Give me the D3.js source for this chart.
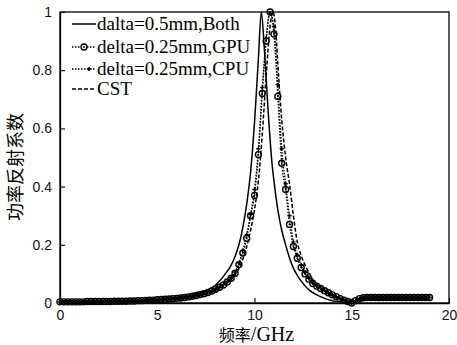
<!DOCTYPE html>
<html>
<head>
<meta charset="utf-8">
<script src="https://cdn.jsdelivr.net/npm/d3@7"></script>
<style>
  html, body { margin: 0; padding: 0; background: #fff; }
  svg { display: block; }
</style>
</head>
<body>
<svg id="chart" width="457" height="345"></svg>
<script>
// ---------------- data ----------------
const legendLabels = ["dalta=0.5mm,Both", "delta=0.25mm,GPU", "delta=0.25mm,CPU", "CST"];
const xTickValues = [0, 5, 10, 15, 20];
const xTickLabels = ["0", "5", "10", "15", "20"];
const yTickValues = [0, 0.2, 0.4, 0.6, 0.8, 1];
const yTickLabels = ["0", "0.2", "0.4", "0.6", "0.8", "1"];

// series 1: dalta=0.5mm, Both (solid)
const solidFreq = [0,1,2,3,4,5,6,7,7.5,8,8.5,8.8,9,9.2,9.4,9.6,9.8,10,10.2,10.35,10.5,10.7,10.9,11.0,11.2,11.4,11.6,11.8,12,12.2,12.4,12.8,13.2,13.6,14,14.5,15,15.5,16,17,18,19];
const solidVal  = [0.002,0.002,0.003,0.004,0.005,0.008,0.015,0.03,0.042,0.062,0.1,0.13,0.16,0.2,0.26,0.34,0.45,0.62,0.84,1.0,0.88,0.66,0.48,0.42,0.32,0.25,0.2,0.155,0.12,0.095,0.075,0.045,0.028,0.016,0.008,0.003,0.0,0.01,0.012,0.012,0.012,0.012];

// series 2 & 3: delta=0.25mm GPU / CPU (sampled every 0.2 GHz)
const gridFreq = [0,0.2,0.4,0.6,0.8,1,1.2,1.4,1.6,1.8,2,2.2,2.4,2.6,2.8,3,3.2,3.4,3.6,3.8,4,4.2,4.4,4.6,4.8,5,5.2,5.4,5.6,5.8,6,6.2,6.4,6.6,6.8,7,7.2,7.4,7.6,7.8,8,8.2,8.4,8.6,8.8,9,9.2,9.4,9.6,9.8,10,10.2,10.4,10.6,10.8,11,11.2,11.4,11.6,11.8,12,12.2,12.4,12.6,12.8,13,13.2,13.4,13.6,13.8,14,14.2,14.4,14.6,14.8,15,15.2,15.4,15.6,15.8,16,16.2,16.4,16.6,16.8,17,17.2,17.4,17.6,17.8,18,18.2,18.4,18.6,18.8,19];
const gpuVal = [0.004,0.004,0.004,0.004,0.004,0.004,0.004,0.005,0.005,0.005,0.005,0.005,0.005,0.005,0.006,0.006,0.006,0.006,0.007,0.007,0.008,0.008,0.009,0.010,0.010,0.011,0.012,0.013,0.014,0.015,0.016,0.017,0.019,0.021,0.023,0.026,0.029,0.032,0.036,0.041,0.047,0.054,0.062,0.072,0.085,0.102,0.132,0.172,0.222,0.30,0.37,0.51,0.72,0.9,1.0,0.924,0.71,0.48,0.39,0.27,0.194,0.154,0.122,0.1,0.082,0.067,0.058,0.05,0.042,0.035,0.028,0.022,0.015,0.01,0.005,0.0,0.008,0.015,0.018,0.019,0.019,0.019,0.019,0.019,0.019,0.019,0.019,0.019,0.019,0.019,0.019,0.019,0.019,0.019,0.019,0.019];
const cpuVal = [0.004,0.004,0.004,0.004,0.004,0.004,0.004,0.005,0.005,0.005,0.005,0.005,0.005,0.005,0.006,0.006,0.006,0.006,0.007,0.007,0.008,0.008,0.009,0.010,0.010,0.011,0.012,0.013,0.014,0.015,0.016,0.017,0.019,0.021,0.023,0.026,0.029,0.032,0.036,0.041,0.047,0.054,0.063,0.074,0.088,0.106,0.138,0.18,0.235,0.305,0.39,0.53,0.74,0.91,0.995,0.95,0.75,0.53,0.41,0.30,0.21,0.165,0.13,0.105,0.085,0.069,0.059,0.051,0.043,0.035,0.028,0.022,0.015,0.01,0.005,0.0,0.008,0.015,0.018,0.019,0.019,0.019,0.019,0.019,0.019,0.019,0.019,0.019,0.019,0.019,0.019,0.019,0.019,0.019,0.019,0.019];

// series 4: CST (dashed)
const cstFreq = [0,1,2,3,4,5,6,7,7.5,8,8.5,9,9.4,9.8,10,10.2,10.4,10.6,10.8,10.95,11.1,11.2,11.4,11.6,11.8,12,12.2,12.4,12.6,12.8,13,13.4,13.8,14.2,14.6,15,15.4,16,17,18,19];
const cstVal  = [0.003,0.003,0.004,0.005,0.007,0.01,0.015,0.024,0.032,0.044,0.064,0.096,0.15,0.25,0.32,0.42,0.58,0.78,0.95,1.0,0.93,0.82,0.63,0.5,0.41,0.3,0.21,0.163,0.13,0.105,0.08,0.052,0.034,0.02,0.008,0.0,0.014,0.018,0.018,0.018,0.018];

const xTitleCJK = "频率";
const xTitleLatin = "/GHz";
const yTitle = "功率反射系数";

// ---------------- drawing ----------------
const svg = d3.select("#chart");
const X0 = 60, X1 = 449, Y0 = 12, Y1 = 303;
const x = d3.scaleLinear().domain([0, 20]).range([X0, X1]);
const y = d3.scaleLinear().domain([0, 1]).range([Y1, Y0]);

const zip = (fs, vs) => fs.map((f, i) => [f, vs[i]]);
const line = d3.line().x(d => x(d[0])).y(d => y(d[1])).curve(d3.curveMonotoneX);

const g = svg.append("g");

// solid
g.append("path").datum(zip(solidFreq, solidVal)).attr("d", line)
  .attr("fill", "none").attr("stroke", "#000").attr("stroke-width", 1.5);
// CST dashed
g.append("path").datum(zip(cstFreq, cstVal)).attr("d", line)
  .attr("fill", "none").attr("stroke", "#000").attr("stroke-width", 1.5)
  .attr("stroke-dasharray", "4,2");
// CPU dotted
const cpuData = zip(gridFreq, cpuVal);
g.append("path").datum(cpuData).attr("d", line)
  .attr("fill", "none").attr("stroke", "#000").attr("stroke-width", 1.3)
  .attr("stroke-dasharray", "1.5,1.5");
// GPU dotted
const gpuData = zip(gridFreq, gpuVal);
g.append("path").datum(gpuData).attr("d", line)
  .attr("fill", "none").attr("stroke", "#000").attr("stroke-width", 1.3)
  .attr("stroke-dasharray", "1.5,1.5");

// GPU circle markers
const gm = g.append("g");
gm.selectAll("circle.o").data(gpuData).join("circle").attr("class", "o")
  .attr("cx", d => x(d[0])).attr("cy", d => y(d[1])).attr("r", 3)
  .attr("fill", "none").attr("stroke", "#000").attr("stroke-width", 1.4);
gm.selectAll("circle.c").data(gpuData).join("circle").attr("class", "c")
  .attr("cx", d => x(d[0])).attr("cy", d => y(d[1])).attr("r", 0.9)
  .attr("fill", "#000");

// CPU plus markers
const plus = d3.symbol().type(d3.symbolCross).size(10);
g.append("g").selectAll("path").data(cpuData).join("path")
  .attr("d", plus)
  .attr("transform", d => `translate(${x(d[0])},${y(d[1])})`)
  .attr("fill", "#000");

// frame
svg.append("rect").attr("x", X0).attr("y", Y0).attr("width", X1 - X0).attr("height", Y1 - Y0)
  .attr("fill", "none").attr("stroke", "#000").attr("stroke-width", 1.3);

// axes
const xAxis = d3.axisBottom(x).tickValues(xTickValues)
  .tickFormat((d, i) => xTickLabels[i]).tickSizeInner(-5).tickSizeOuter(0).tickPadding(7);
const yAxis = d3.axisLeft(y).tickValues(yTickValues)
  .tickFormat((d, i) => yTickLabels[i]).tickSizeInner(-5).tickSizeOuter(0).tickPadding(8);

const gx = svg.append("g").attr("transform", `translate(0,${Y1})`).call(xAxis);
const gy = svg.append("g").attr("transform", `translate(${X0},0)`).call(yAxis);
[gx, gy].forEach(a => {
  a.select(".domain").attr("stroke", "#000").attr("stroke-width", 1.3);
  a.selectAll(".tick line").attr("stroke", "#000").attr("stroke-width", 1.1);
  a.selectAll(".tick text").attr("fill", "#111")
    .style("font-family", "'Liberation Sans', Arial, sans-serif").style("font-size", "14px");
});

// axis titles
const xt = svg.append("text").attr("x", (X0 + X1) / 2 + 2).attr("y", 341)
  .attr("text-anchor", "middle").attr("fill", "#000");
xt.append("tspan").text(xTitleCJK)
  .style("font-family", "'Noto Sans CJK SC', sans-serif").style("font-size", "16px");
xt.append("tspan").text(xTitleLatin)
  .style("font-family", "'Liberation Serif', 'Times New Roman', serif").style("font-size", "20px");

svg.append("text").attr("transform", "translate(22,167) rotate(-90)")
  .attr("text-anchor", "middle").attr("fill", "#000")
  .style("font-family", "'Noto Sans CJK SC', sans-serif").style("font-size", "18px")
  .text(yTitle);

// legend
const legY = [24, 47, 69, 89];
const lx0 = 72, lx1 = 96;
const leg = svg.append("g");
legendLabels.forEach((lab, i) => {
  const yy = legY[i];
  const ln = leg.append("line").attr("x1", lx0).attr("x2", lx1).attr("y1", yy).attr("y2", yy)
    .attr("stroke", "#000");
  if (i === 0) ln.attr("stroke-width", 1.5);
  if (i === 1 || i === 2) ln.attr("stroke-width", 1.3).attr("stroke-dasharray", "1.5,1.5");
  if (i === 3) ln.attr("stroke-width", 1.5).attr("stroke-dasharray", "4,2");
  if (i === 1) {
    leg.append("circle").attr("cx", 84).attr("cy", yy).attr("r", 3)
      .attr("fill", "#fff").attr("stroke", "#000").attr("stroke-width", 1.3);
    leg.append("circle").attr("cx", 84).attr("cy", yy).attr("r", 0.9).attr("fill", "#000");
  }
  if (i === 2) {
    leg.append("path").attr("d", plus).attr("transform", `translate(89,${yy})`).attr("fill", "#000");
  }
  leg.append("text").attr("x", 97).attr("y", yy + 6).attr("fill", "#000")
    .style("font-family", "'Liberation Serif', 'Times New Roman', serif").style("font-size", "19px")
    .text(lab);
});
</script>
</body>
</html>
